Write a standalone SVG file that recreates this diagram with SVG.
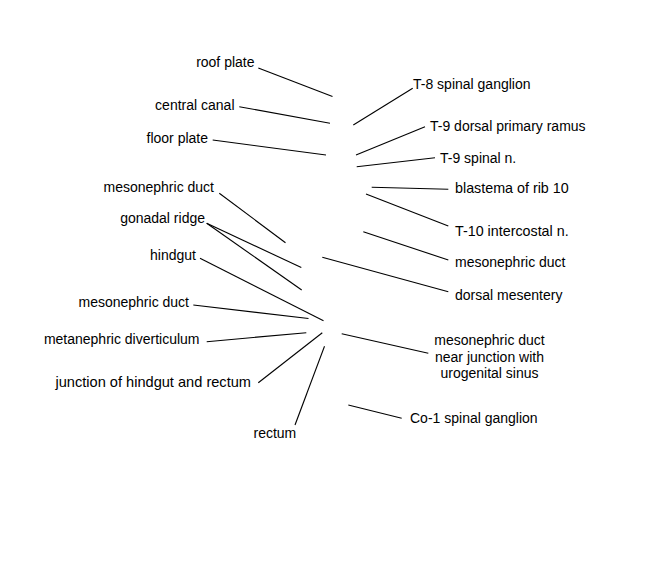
<svg xmlns="http://www.w3.org/2000/svg" width="648" height="576" viewBox="0 0 648 576">
<style>
text{font-family:"Liberation Sans",Arial,sans-serif;font-size:14px;fill:#000}
.l{text-anchor:end}
.r{text-anchor:start}
.c{text-anchor:middle}
.big{font-size:14.6px}
.mid{font-size:14.3px}
#connectors line{stroke:#000;stroke-width:1.1;fill:none}
</style>
<rect width="648" height="576" fill="#fff"/>
<g id="connectors">
<line x1="258.3" y1="68" x2="332.5" y2="96.5"/>
<line x1="239.3" y1="106.7" x2="330" y2="123.3"/>
<line x1="212.7" y1="140" x2="326" y2="155"/>
<line x1="353.3" y1="125" x2="412.7" y2="88.3"/>
<line x1="356" y1="155" x2="425" y2="126.7"/>
<line x1="356.7" y1="166.7" x2="435" y2="157.7"/>
<line x1="371.7" y1="187.3" x2="448.3" y2="189.3"/>
<line x1="366" y1="194" x2="448.3" y2="226"/>
<line x1="363.3" y1="231.7" x2="448.3" y2="260"/>
<line x1="322.3" y1="257.3" x2="448.3" y2="291.7"/>
<line x1="219.3" y1="193.3" x2="285.5" y2="242.7"/>
<line x1="206.7" y1="223.3" x2="301.3" y2="267.5"/>
<line x1="206.7" y1="223.3" x2="301.7" y2="290"/>
<line x1="200" y1="258.3" x2="323.5" y2="320.7"/>
<line x1="193.3" y1="305" x2="308.5" y2="318.5"/>
<line x1="206.7" y1="341.7" x2="306.3" y2="332.7"/>
<line x1="258.3" y1="382.7" x2="322.3" y2="332.7"/>
<line x1="295" y1="425" x2="324.5" y2="346.3"/>
<line x1="341.7" y1="333.7" x2="428.3" y2="353.3"/>
<line x1="348.3" y1="405" x2="401.7" y2="418.3"/>
</g>
<g id="roof-plate"><text class="l" x="254.5" y="67">roof plate</text></g>
<g id="central-canal"><text class="l" x="234.5" y="110">central canal</text></g>
<g id="floor-plate"><text class="l" x="208" y="143">floor plate</text></g>
<g id="t8-spinal-ganglion"><text class="r" x="413" y="89">T-8 spinal ganglion</text></g>
<g id="t9-dorsal-primary-ramus"><text class="r" x="430" y="131">T-9 dorsal primary ramus</text></g>
<g id="t9-spinal-n"><text class="r" x="440" y="163">T-9 spinal n.</text></g>
<g id="blastema-rib10"><text class="r mid" x="455" y="193">blastema of rib 10</text></g>
<g id="t10-intercostal-n"><text class="r mid" x="455" y="236">T-10 intercostal n.</text></g>
<g id="mesonephric-duct-right"><text class="r" x="455" y="267">mesonephric duct</text></g>
<g id="dorsal-mesentery"><text class="r" x="455" y="300">dorsal mesentery</text></g>
<g id="mesonephric-duct-upper"><text class="l" x="214" y="192">mesonephric duct</text></g>
<g id="gonadal-ridge"><text class="l" x="205" y="223">gonadal ridge</text></g>
<g id="hindgut"><text class="l" x="196" y="260">hindgut</text></g>
<g id="mesonephric-duct-lower"><text class="l" x="189" y="307">mesonephric duct</text></g>
<g id="metanephric-diverticulum"><text class="l" x="199.5" y="344">metanephric diverticulum</text></g>
<g id="junction-hindgut-rectum"><text class="l big" x="251" y="387">junction of hindgut and rectum</text></g>
<g id="rectum"><text class="r" x="253.5" y="438">rectum</text></g>
<g id="mesonephric-duct-junction"><text class="c" x="489.5" y="345">mesonephric duct</text><text class="c" x="489.5" y="361.5">near junction with</text><text class="c" x="489.5" y="378">urogenital sinus</text></g>
<g id="co1-spinal-ganglion"><text class="r" x="410" y="423">Co-1 spinal ganglion</text></g>
</svg>
